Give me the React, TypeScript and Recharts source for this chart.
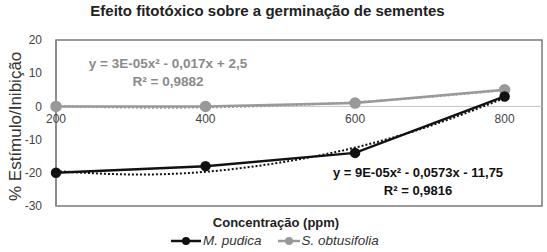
import {
  LineChart,
  Line,
  XAxis,
  YAxis,
  ReferenceLine,
  ReferenceArea,
  ReferenceDot,
} from "recharts";

// concentrations (ppm) and measured % stimulus / inhibition
const concentrations = [200, 400, 600, 800];
const mPudica = [-20, -18, -14, 3];
const sObtusifolia = [0, 0, 1, 5];

// polynomial trend lines
const trendX = [200, 300, 400, 500, 600, 700, 800];
const mPudicaTrend = [-19.5, -20.5, -19.7, -16.9, -12.4, -5.9, 2.5];
const sObtusifoliaTrend = [0.1, -0.35, -0.3, 0.25, 1.3, 2.85, 4.9];

const yTicks = [-30, -20, -10, 0, 10, 20];
const xTickLabels = ["200", "400", "600", "800"];

// no serif face in the sandbox, so everything uses Liberation Sans
const font = "'Liberation Sans', Arial, sans-serif";

const table = trendX.map((x) => {
  const i = concentrations.indexOf(x);
  const t = trendX.indexOf(x);
  return {
    x,
    m: i >= 0 ? mPudica[i] : undefined,
    s: i >= 0 ? sObtusifolia[i] : undefined,
    mTrend: mPudicaTrend[t],
    sTrend: sObtusifoliaTrend[t],
  };
});

export default function App() {
  return (
    <div
      style={{
        position: "absolute",
        left: 0,
        top: 0,
        width: 547,
        height: 252,
        background: "#fff",
        fontFamily: font,
      }}
    >
      <div
        style={{
          position: "absolute",
          left: 0,
          width: 535,
          top: 2,
          textAlign: "center",
          fontWeight: "bold",
          fontSize: 15,
          color: "#222",
        }}
      >
        Efeito fitotóxico sobre a germinação de sementes
      </div>

      <LineChart
        width={547}
        height={252}
        data={table}
        margin={{ top: 40, right: 5, bottom: 46, left: 6 }}
      >
        <XAxis
          dataKey="x"
          type="number"
          domain={[200, 850]}
          ticks={concentrations}
          hide
        />
        <YAxis
          type="number"
          domain={[-30, 20]}
          ticks={yTicks}
          width={50}
          tickLine={false}
          axisLine={{ stroke: "#8c8c8c", strokeWidth: 2 }}
          tick={{ fill: "#444", fontSize: 12, fontFamily: font }}
          tickMargin={8}
          label={{
            value: "% Estímulo/Inibição",
            angle: -90,
            position: "insideLeft",
            dx: 4,
            dy: 78,
            style: { fontFamily: font, fontSize: 17, fill: "#333" },
          }}
        />
        <ReferenceArea
          x1={200}
          x2={850}
          y1={-30}
          y2={20}
          fill="none"
          stroke="#7a7a7a"
          strokeWidth={1.5}
          ifOverflow="visible"
        />
        <ReferenceLine y={0} stroke="#c4c4c4" strokeWidth={1} />
        {concentrations.map((c, i) => (
          <ReferenceDot
            key={c}
            x={c}
            y={0}
            r={0}
            fill="none"
            stroke="none"
            ifOverflow="visible"
            label={{
              value: xTickLabels[i],
              position: "bottom",
              offset: 8,
              fill: "#444",
              fontSize: 12,
              fontFamily: font,
            }}
          />
        ))}

        <Line
          dataKey="sTrend"
          stroke="#9a9a9a"
          strokeWidth={2}
          strokeDasharray="2 2"
          type="natural"
          dot={false}
          connectNulls
          isAnimationActive={false}
          legendType="none"
        />
        <Line
          dataKey="mTrend"
          stroke="#111"
          strokeWidth={2}
          strokeDasharray="2 2"
          type="natural"
          dot={false}
          connectNulls
          isAnimationActive={false}
          legendType="none"
        />
        <Line
          dataKey="s"
          stroke="#999"
          strokeWidth={2.5}
          type="linear"
          dot={{ r: 4.5, fill: "#999", stroke: "#999" }}
          connectNulls
          isAnimationActive={false}
        />
        <Line
          dataKey="m"
          stroke="#111"
          strokeWidth={2.5}
          type="linear"
          dot={{ r: 4, fill: "#111", stroke: "#111" }}
          connectNulls
          isAnimationActive={false}
        />
      </LineChart>

      {/* trend-line equations */}
      <div
        style={{
          position: "absolute",
          left: 78,
          top: 55,
          width: 180,
          textAlign: "center",
          fontWeight: "bold",
          fontSize: 13.5,
          color: "#8a8a8a",
          lineHeight: "18px",
        }}
      >
        <div>y = 3E-05x² - 0,017x + 2,5</div>
        <div>R² = 0,9882</div>
      </div>
      <div
        style={{
          position: "absolute",
          left: 318,
          top: 164,
          width: 200,
          textAlign: "center",
          fontWeight: "bold",
          fontSize: 13,
          color: "#111",
          lineHeight: "18px",
        }}
      >
        <div>y = 9E-05x² - 0,0573x - 11,75</div>
        <div>R² = 0,9816</div>
      </div>

      <div
        style={{
          position: "absolute",
          left: 0,
          width: 552,
          top: 215,
          textAlign: "center",
          fontWeight: "bold",
          fontSize: 13,
          color: "#222",
        }}
      >
        Concentração (ppm)
      </div>

      {/* legend */}
      <div
        style={{
          position: "absolute",
          left: 171,
          top: 233,
          display: "flex",
          alignItems: "center",
          fontStyle: "italic",
          fontSize: 13.5,
          color: "#333",
        }}
      >
        <svg width={30} height={12}>
          <line x1={0} y1={6} x2={30} y2={6} stroke="#111" strokeWidth={2.5} />
          <circle cx={15} cy={6} r={4} fill="#111" />
        </svg>
        <span style={{ marginLeft: 2, marginRight: 16 }}>M. pudica</span>
        <svg width={22} height={12}>
          <line x1={0} y1={6} x2={22} y2={6} stroke="#999" strokeWidth={2.5} />
          <circle cx={11} cy={6} r={4} fill="#999" />
        </svg>
        <span style={{ marginLeft: 2 }}>S. obtusifolia</span>
      </div>
    </div>
  );
}
